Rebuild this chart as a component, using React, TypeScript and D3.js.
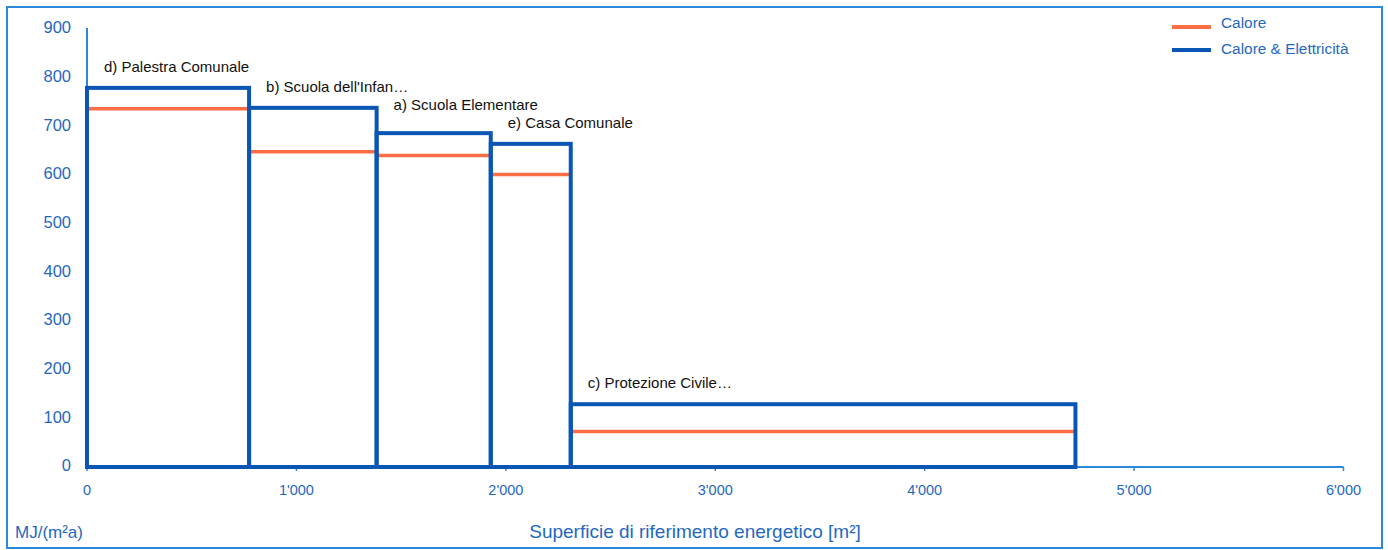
import React from "react";
import * as d3 from "d3";

const buildings = [
  "d) Palestra Comunale",
  "b) Scuola dell'Infan…",
  "a) Scuola Elementare",
  "e) Casa Comunale",
  "c) Protezione Civile…",
];
const areas = [774, 609, 545, 382, 2410];
const heatElec = [779, 738, 686, 664, 129];
const heat = [736, 648, 640, 601, 73];
const xTickValues = [0, 1000, 2000, 3000, 4000, 5000, 6000];
const yTickValues = [0, 100, 200, 300, 400, 500, 600, 700, 800, 900];
const legendLabels = ["Calore", "Calore & Elettricità"];

const W = 1388;
const H = 550;
const BLUE = "#0a56b4";
const ORANGE = "#ff6d45";
const AXIS = "#2c89d9";
const TEXT_BLUE = "#1f68c0";
const FONT = "'Liberation Sans', Arial, sans-serif";
// extra upward shift for labels that would collide with the next one
const labelNudge = [0, 0, 7, 0, 0];

const locale = d3.formatLocale({
  decimal: ".",
  thousands: "'",
  grouping: [3],
  currency: ["", ""],
});
const fmt = locale.format(",d");

export default function App() {
  const x = d3.scaleLinear().domain([0, 6000]).range([87, 1343.5]);
  const y = d3.scaleLinear().domain([0, 900]).range([467, 29]);

  const starts: number[] = [];
  let acc = 0;
  for (const a of areas) {
    starts.push(acc);
    acc += a;
  }

  return (
    <svg
      width={W}
      height={H}
      style={{ position: "absolute", left: 0, top: 0, fontFamily: FONT }}
    >
      <rect x={0} y={0} width={W} height={H} fill="#fff" />
      <rect
        x={7}
        y={7}
        width={1375}
        height={541}
        fill="none"
        stroke={AXIS}
        strokeWidth={2}
      />

      {/* axes */}
      <line x1={x(0)} x2={x(0)} y1={y(900) - 1} y2={y(0)} stroke={AXIS} strokeWidth={2} />
      <line x1={x(0)} x2={x(6000)} y1={y(0)} y2={y(0)} stroke={AXIS} strokeWidth={2} />
      {xTickValues.map((t) => (
        <g key={"xt" + t}>
          <line x1={x(t)} x2={x(t)} y1={y(0)} y2={y(0) + 4} stroke={AXIS} strokeWidth={1.5} />
          <text
            x={x(t)}
            y={y(0) + 24}
            textAnchor="middle"
            dominantBaseline="middle"
            fontSize={14.5}
            fill={TEXT_BLUE}
          >
            {fmt(t)}
          </text>
        </g>
      ))}
      {yTickValues.map((t) => (
        <text
          key={"yt" + t}
          x={71}
          y={y(t)}
          textAnchor="end"
          dominantBaseline="middle"
          fontSize={16.5}
          fill={TEXT_BLUE}
        >
          {t}
        </text>
      ))}

      {/* orange: Calore */}
      {heat.map((v, i) => (
        <line
          key={"h" + i}
          x1={x(starts[i])}
          x2={x(starts[i] + areas[i])}
          y1={y(v)}
          y2={y(v)}
          stroke={ORANGE}
          strokeWidth={3.5}
        />
      ))}

      {/* blue: Calore & Elettricità */}
      {heatElec.map((v, i) => (
        <rect
          key={"he" + i}
          x={x(starts[i])}
          y={y(v)}
          width={x(starts[i] + areas[i]) - x(starts[i])}
          height={y(0) - y(v)}
          fill="none"
          stroke={BLUE}
          strokeWidth={4}
        />
      ))}

      {/* labels */}
      {buildings.map((b, i) => (
        <text
          key={"l" + i}
          x={x(starts[i]) + 17}
          y={y(heatElec[i]) - 20 - labelNudge[i]}
          dominantBaseline="middle"
          fontSize={15}
          fill="#111"
        >
          {b}
        </text>
      ))}

      {/* legend */}
      {legendLabels.map((l, i) => (
        <g key={"lg" + i}>
          <line
            x1={1172}
            x2={1211}
            y1={27 + i * 23}
            y2={27 + i * 23}
            stroke={i === 0 ? ORANGE : BLUE}
            strokeWidth={4}
          />
          <text
            x={1221}
            y={24 + i * 26}
            dominantBaseline="middle"
            fontSize={15.4}
            fill={TEXT_BLUE}
          >
            {l}
          </text>
        </g>
      ))}

      {/* axis titles */}
      <text x={15} y={534} dominantBaseline="middle" fontSize={17} fill={TEXT_BLUE}>
        MJ/(m²a)
      </text>
      <text
        x={695}
        y={533}
        textAnchor="middle"
        dominantBaseline="middle"
        fontSize={19}
        fill={TEXT_BLUE}
      >
        Superficie di riferimento energetico [m²]
      </text>
    </svg>
  );
}
